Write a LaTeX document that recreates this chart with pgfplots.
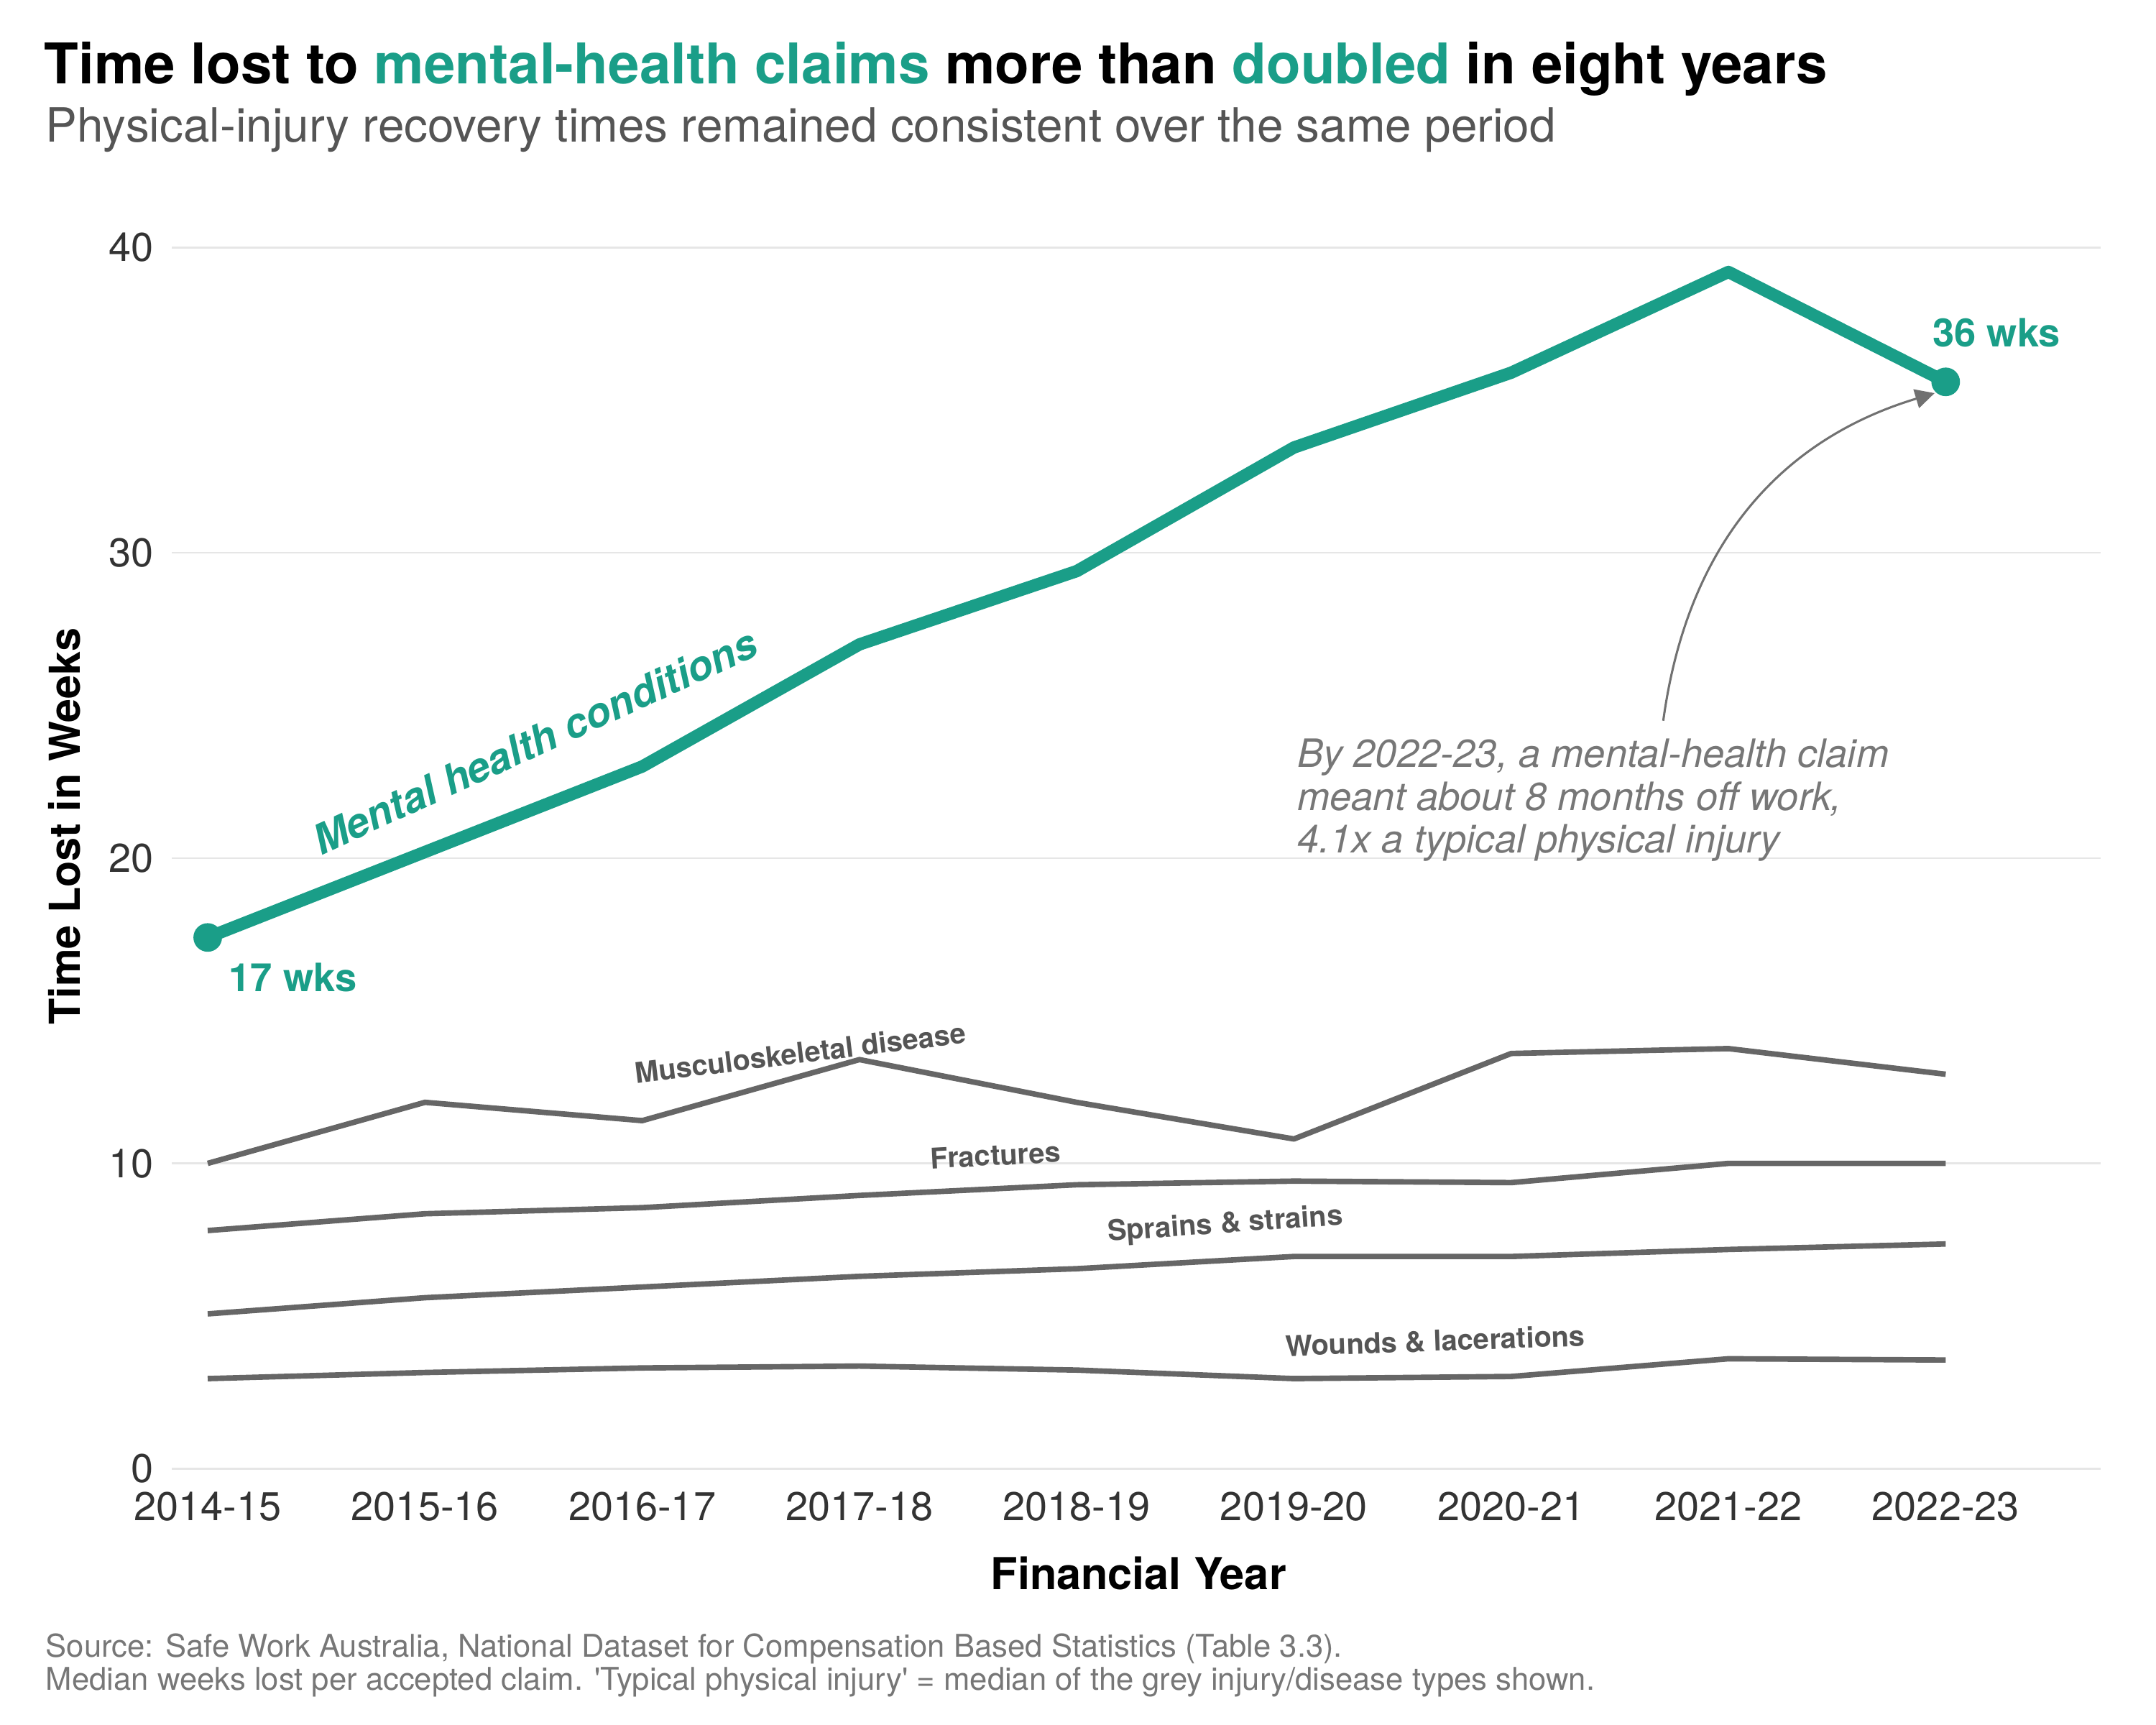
\documentclass[border=0pt]{standalone}
\usepackage{fontspec}
\setmainfont{TeX Gyre Heros}
\newfontfamily\plainquotes[Ligatures=TeXOff]{TeX Gyre Heros}
\usepackage{pgfplots}
\usepackage{pgfplotstable}
\pgfplotsset{compat=1.18}
\usetikzlibrary{arrows.meta}

\definecolor{mhteal}{HTML}{1A9E88}
\definecolor{linegray}{HTML}{666666}
\definecolor{gridgray}{HTML}{E6E6E6}
\definecolor{subgray}{HTML}{555555}
\definecolor{notegray}{HTML}{777777}
\definecolor{tickgray}{HTML}{333333}

% Median weeks lost per accepted claim, by financial year (0 = 2014-15)
\pgfplotstableread{
idx mental musculo fract sprain wounds
0   17.4   10.0    7.8   5.07   2.95
1   20.2   12.0    8.35  5.6    3.15
2   23.0   11.4    8.55  5.95   3.3
3   27.0   13.4    8.95  6.3    3.36
4   29.4   12.0    9.3   6.55   3.23
5   33.45  10.8    9.42  6.95   2.95
6   35.9   13.6    9.37  6.95   3.02
7   39.2   13.76   10.0  7.18   3.6
8   35.6   12.92   10.0  7.36   3.56
}\claims

\newcommand{\fs}[1]{\fontsize{#1}{1.2\dimexpr#1\relax}\selectfont}

\begin{document}
\begin{tikzpicture}
\path[use as bounding box] (-62.5bp,-93bp) rectangle (721.5bp,534bp);

\begin{axis}[
  at={(0,0)}, anchor=south west,
  scale only axis, width=701.5bp, height=444bp,
  xmin=-0.165, xmax=8.715, ymin=0, ymax=40,
  clip=false,
  axis line style={draw=none},
  major tick length=0pt,
  ymajorgrids,
  grid style={color=gridgray, line width=0.7bp},
  xtick={0,...,8},
  xticklabels={2014-15,2015-16,2016-17,2017-18,2018-19,2019-20,2020-21,2021-22,2022-23},
  ytick={0,10,20,30,40},
  /pgf/number format/assume math mode=true,
  xticklabel style={font=\fs{14.6bp}, text=tickgray, inner sep=0pt, anchor=north, yshift=-8.3bp},
  yticklabel style={font=\fs{14.6bp}, text=tickgray, inner sep=0pt, anchor=east, xshift=-6.5bp},
]
% physical injury and disease types
\addplot[linegray, line width=2bp, line join=round] table[x=idx, y=musculo] {\claims};
\addplot[linegray, line width=2bp, line join=round] table[x=idx, y=fract] {\claims};
\addplot[linegray, line width=2bp, line join=round] table[x=idx, y=sprain] {\claims};
\addplot[linegray, line width=2bp, line join=round] table[x=idx, y=wounds] {\claims};
% mental health conditions
\addplot[mhteal, line width=4.5bp, line join=round] table[x=idx, y=mental] {\claims};
\addplot[only marks, mark=*, mark size=5bp, mhteal] coordinates {(0,17.4) (8,35.6)};

% series labels
\node[rotate=24.6, text=mhteal, font=\fs{15bp}\bfseries\itshape] at (axis cs:1.506,23.83) {Mental health conditions};
\node[text=mhteal, font=\fs{14.2bp}\bfseries] at (axis cs:0.392,16.08) {17 wks};
\node[text=mhteal, font=\fs{14.2bp}\bfseries] at (axis cs:8.234,37.2) {36 wks};

\node[rotate=7, text=subgray, font=\fs{10.4bp}\bfseries] at (axis cs:2.728,13.62) {Musculoskeletal disease};
\node[rotate=3, text=subgray, font=\fs{10.4bp}\bfseries] at (axis cs:3.627,10.27) {Fractures};
\node[rotate=4, text=subgray, font=\fs{10.4bp}\bfseries] at (axis cs:4.684,7.97) {Sprains \& strains};
\node[rotate=2, text=subgray, font=\fs{10.4bp}\bfseries] at (axis cs:5.65,4.19) {Wounds \& lacerations};

% annotation
\node[anchor=base west, inner sep=0pt, text=notegray, font=\fs{14.2bp}\itshape] at (axis cs:5.013,22.97) {By 2022-23, a mental-health claim};
\node[anchor=base west, inner sep=0pt, text=notegray, font=\fs{14.2bp}\itshape] at (axis cs:5.013,21.57) {meant about 8 months off work,};
\node[anchor=base west, inner sep=0pt, text=notegray, font=\fs{14.2bp}\itshape] at (axis cs:5.013,20.18) {4.1x a typical physical injury};
\draw[-{Triangle[length=7bp,width=7bp]}, color=notegray!95!black, line width=0.8bp]
  (axis cs:6.70,24.5) .. controls (axis cs:6.816,30.54) and (axis cs:7.272,33.78) .. (axis cs:7.949,35.23);
\end{axis}

% titles, axis titles and notes
\node[anchor=base west, inner sep=0pt, font=\fs{20.4bp}\bfseries] at (-46.5bp,503.5bp)
  {Time lost to \textcolor{mhteal}{mental-health claims} more than \textcolor{mhteal}{doubled} in eight years};
\node[anchor=base west, inner sep=0pt, text=subgray, font=\fs{17.15bp}] at (-46bp,482.5bp)
  {Physical-injury recovery times remained consistent over the same period};
\node[rotate=90, inner sep=0pt, font=\fs{15.5bp}\bfseries] at (-39bp,233.5bp) {Time Lost in Weeks};
\node[anchor=base, inner sep=0pt, font=\fs{16bp}\bfseries] at (351.5bp,-44bp) {Financial Year};
\node[anchor=base west, inner sep=0pt, text=notegray, font=\fs{11.4bp}] at (-46bp,-68.5bp)
  {Source: Safe Work Australia, National Dataset for Compensation Based Statistics (Table 3.3).};
\node[anchor=base west, inner sep=0pt, text=notegray, font=\plainquotes\fs{11.4bp}] at (-46bp,-80.5bp)
  {Median weeks lost per accepted claim. 'Typical physical injury' = median of the grey injury/disease types shown.};
\end{tikzpicture}
\end{document}
